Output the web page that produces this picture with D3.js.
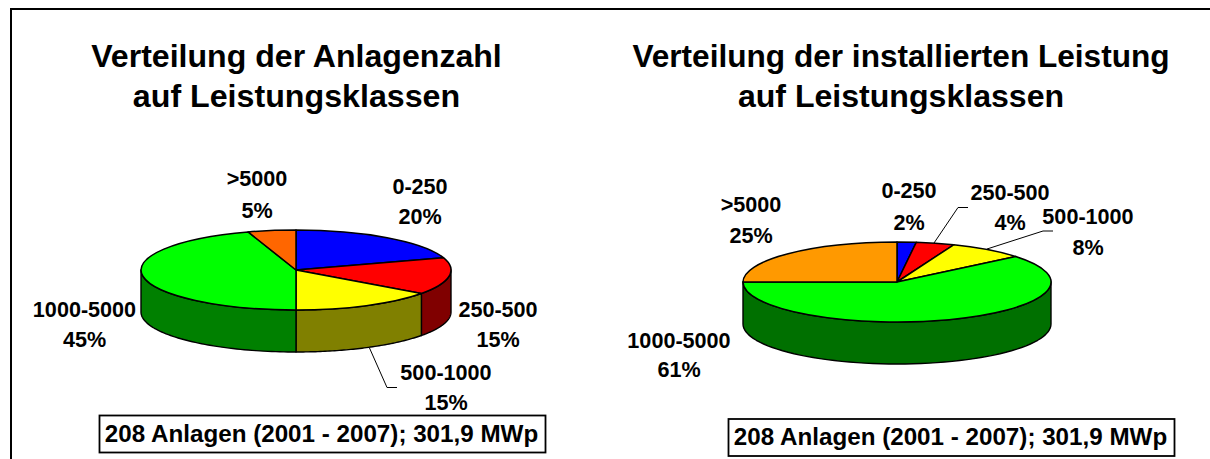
<!DOCTYPE html>
<html><head><meta charset="utf-8">
<script src="https://cdnjs.cloudflare.com/ajax/libs/d3/7.8.5/d3.min.js"></script>
<style>html,body{margin:0;padding:0;background:#fff;overflow:hidden}svg{display:block}text{font-family:"Liberation Sans",Arial,sans-serif;font-weight:bold;fill:#000}</style>
</head><body><svg id="c" width="1210" height="459"></svg>
<script>
const categories = ["0-250","250-500","500-1000","1000-5000",">5000"];
const leftValues = [20,15,15,45,5];
const rightValues = [2,4,8,61,25];
const leftTitle = ["Verteilung der Anlagenzahl","auf Leistungsklassen"];
const rightTitle = ["Verteilung der installierten Leistung","auf Leistungsklassen"];
const noteText = "208 Anlagen (2001 - 2007); 301,9 MWp";
const leftColors = ["#0000ff","#ff0000","#ffff00","#00ff00","#ff6600"];
const rightColors = ["#0000ff","#ff0000","#ffff00","#00ff00","#ff9900"];
const leftSides = ["#000080","#800000","#808000","#008000","#803300"];
const rightSides = ["#000080","#800000","#808000","#007000","#804d00"];

const panels = [
 {values:leftValues,colors:leftColors,sides:leftSides,title:leftTitle,titleX:296.5,titleSizes:[32.1,32.2],cx:296,cy:270,rx:155,ry:40,depth:42,
  labels:[[420,186,216],[498,309,339],[446,372,402],[84.5,309,339],[257,178,209.5]],
  leaders:[[[369.5,348],[387,387.5],[397,387.5]]],
  box:[99.5,415.5,446,37], noteBase:442},
 {values:rightValues,colors:rightColors,sides:rightSides,title:rightTitle,titleX:901,titleSizes:[31.6,32.1],cx:897,cy:282,rx:154,ry:40,depth:42,
  labels:[[909,190,221.5],[1010,192,222],[1088,216,247],[679,340,369],[751,204,234.5]],
  leaders:[[[934,243],[958,207.5],[968,207.5]],[[987,249],[1043,231],[1053,231]]],
  box:[728.5,419,446,37], noteBase:445}
];
const svg = d3.select("#c");
svg.append("path").attr("d",d3.line()([[11,470],[11,9],[1210,9]])).attr("fill","none").attr("stroke","#000").attr("stroke-width",2);
const pie = d3.pie().sort(null);
panels.forEach(p=>{
  const g = svg.append("g");
  const arcs = pie(p.values);
  const px = a=>p.cx+p.rx*Math.sin(a), py = a=>p.cy-p.ry*Math.cos(a);
  const side = d3.area().x(a=>px(a)).y0(a=>py(a)).y1(a=>py(a)+p.depth);
  arcs.forEach((d,i)=>{
    const a0=Math.max(d.startAngle,Math.PI/2), a1=Math.min(d.endAngle,Math.PI*1.5);
    if(a1<=a0) return;
    const n=60, samples=d3.range(n+1).map(k=>a0+(a1-a0)*k/n);
    g.append("path").attr("d",side(samples)).attr("fill",p.sides[i]).attr("stroke","#000").attr("stroke-width",1.4).attr("stroke-linejoin","round");
  });
  const arc = d3.arc().innerRadius(0).outerRadius(1);
  const top = g.append("g").attr("transform",`translate(${p.cx},${p.cy}) scale(${p.rx},${p.ry})`);
  arcs.forEach((d,i)=>{
    top.append("path").attr("d",arc(d)).attr("fill",p.colors[i]).attr("stroke","#000").attr("stroke-width",1.5).attr("vector-effect","non-scaling-stroke").attr("stroke-linejoin","round");
  });
  const line=d3.line();
  p.leaders.forEach(l=>g.append("path").attr("d",line(l)).attr("fill","none").attr("stroke","#000").attr("stroke-width",1));
  p.title.forEach((t,i)=>g.append("text").text(t).attr("x",p.titleX).attr("y",67+i*40).attr("text-anchor","middle").attr("font-size",p.titleSizes[i]));
  categories.forEach((c,i)=>{
    const [x,y1,y2]=p.labels[i];
    g.append("text").text(c).attr("x",x).attr("y",y1+8).attr("text-anchor","middle").attr("font-size",21.6);
    g.append("text").text(p.values[i]+"%").attr("x",x).attr("y",y2+8).attr("text-anchor","middle").attr("font-size",21.6);
  });
  const [bx,by,bw,bh]=p.box;
  g.append("rect").attr("x",bx).attr("y",by).attr("width",bw).attr("height",bh).attr("fill","#fff").attr("stroke","#000").attr("stroke-width",1.8);
  g.append("text").text(noteText).attr("x",bx+bw/2-1).attr("y",p.noteBase).attr("text-anchor","middle").attr("font-size",24.2);
});
</script></body></html>
